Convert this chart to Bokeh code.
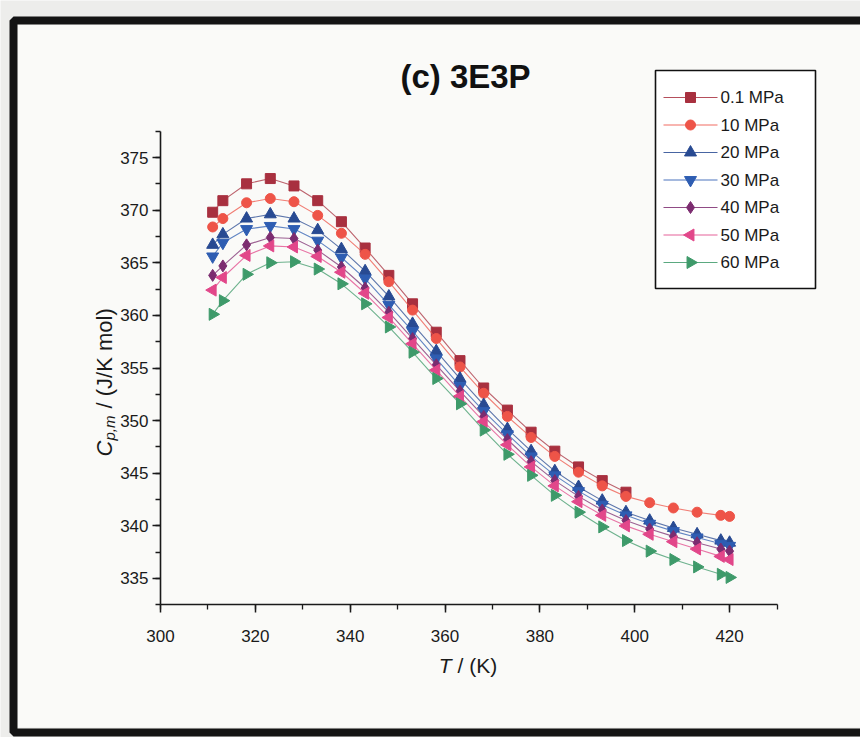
import math
from bokeh.plotting import figure
from bokeh.models import Label, BoxAnnotation, Range1d, SingleIntervalTicker
from bokeh.embed import file_html
from bokeh.resources import INLINE

# ---------------- data ----------------
T_K = [311.0, 313.15, 318.15, 323.15, 328.15, 333.15, 338.15, 343.15, 348.15,
       353.15, 358.15, 363.15, 368.15, 373.15, 378.15, 383.15, 388.15, 393.15,
       398.15, 403.15, 408.15, 413.15, 418.15, 420.0]

cp_01MPa = [369.8, 370.9, 372.5, 373.0, 372.3, 370.9, 368.9, 366.4, 363.8, 361.1,
            358.4, 355.7, 353.1, 351.0, 348.9, 347.1, 345.6, 344.3, 343.2]
cp_10MPa = [368.4, 369.2, 370.7, 371.1, 370.8, 369.5, 367.8, 365.8, 363.2, 360.5,
            357.8, 355.1, 352.6, 350.4, 348.4, 346.6, 345.1, 343.8, 342.8, 342.2,
            341.7, 341.3, 341.0, 340.9]
cp_20MPa = [366.7, 367.7, 369.2, 369.6, 369.2, 368.1, 366.3, 364.2, 361.8, 359.2,
            356.6, 354.0, 351.5, 349.2, 347.1, 345.2, 343.7, 342.4, 341.3, 340.5,
            339.8, 339.2, 338.6, 338.4]
cp_30MPa = [365.6, 366.9, 368.2, 368.5, 368.2, 367.1, 365.5, 363.5, 361.0, 358.5,
            355.9, 353.3, 350.9, 348.7, 346.6, 344.8, 343.3, 342.0, 341.0, 340.2,
            339.5, 338.9, 338.3, 338.1]
cp_40MPa = [363.8, 364.7, 366.7, 367.4, 367.3, 366.2, 364.6, 362.6, 360.3, 357.8,
            355.3, 352.8, 350.4, 348.2, 346.1, 344.3, 342.8, 341.5, 340.5, 339.7,
            339.0, 338.4, 337.8, 337.6]
cp_50MPa = [362.4, 363.6, 365.7, 366.6, 366.5, 365.6, 364.1, 362.1, 359.8, 357.3,
            354.8, 352.3, 349.9, 347.7, 345.6, 343.8, 342.3, 341.0, 340.0, 339.2,
            338.5, 337.8, 337.1, 336.8]
cp_60MPa = [360.1, 361.4, 363.9, 365.0, 365.1, 364.4, 363.0, 361.1, 358.9, 356.5,
            354.0, 351.6, 349.1, 346.8, 344.8, 342.9, 341.3, 339.9, 338.6, 337.6,
            336.8, 336.1, 335.4, 335.1]

series_labels = ["0.1 MPa", "10 MPa", "20 MPa", "30 MPa", "40 MPa", "50 MPa", "60 MPa"]
series_values = [cp_01MPa, cp_10MPa, cp_20MPa, cp_30MPa, cp_40MPa, cp_50MPa, cp_60MPa]

x_axis_range = (300, 430)
y_axis_range = (332.5, 377.5)
x_tick_step = 20
y_tick_step = 5

# ---------------- layout (pixels of the 860x737 canvas) ----------------
W, H = 860, 737
AX_LEFT, AX_RIGHT = 160.0, 776.5      # pixel x of 300 K and 430 K
AX_TOP, AX_BOTTOM = 130.7, 604.3      # pixel y of 377.5 and 332.5
kx = (AX_RIGHT - AX_LEFT) / (x_axis_range[1] - x_axis_range[0])
ky = (AX_BOTTOM - AX_TOP) / (y_axis_range[1] - y_axis_range[0])
x_start = x_axis_range[0] - AX_LEFT / kx
x_end = x_axis_range[1] + (W - AX_RIGHT) / kx
y_end = y_axis_range[1] + AX_TOP / ky
y_start = y_axis_range[0] - (H - AX_BOTTOM) / ky


def px2x(px):
    return x_start + px / kx


def py2y(py):
    return y_end - py / ky


colors = ["#A8303F", "#EE5448", "#284A92", "#2E5DB2", "#7C2C70", "#E2478A", "#3E9A6A"]
markers = ["square", "circle", "triangle", "inverted_triangle", "diamond", "triangle", "triangle"]
angles = [0, 0, 0, 0, 0, math.pi / 2, -math.pi / 2]
sizes = [10, 10, 12, 12, 12, 12, 12]

FONT = "Liberation Sans"
INK = "#1a1a1a"

p = figure(width=W, height=H, output_backend="svg", toolbar_location=None,
           x_range=Range1d(x_start, x_end), y_range=Range1d(y_start, y_end),
           min_border=0)
p.title.visible = False
p.background_fill_color = "#EDEDEB"
p.border_fill_color = "#EDEDEB"
p.outline_line_color = None
p.grid.visible = False

# inner paper of the scanned figure and its dark frame
p.add_layout(BoxAnnotation(left=17, right=W + 20, top=H - 24, bottom=H - 727,
                           left_units="screen", right_units="screen",
                           top_units="screen", bottom_units="screen",
                           fill_color="#FAFAF8", fill_alpha=1, line_alpha=0,
                           level="underlay"))
p.add_layout(BoxAnnotation(left=13, right=W + 30, top=H - 20, bottom=H - 732,
                           left_units="screen", right_units="screen",
                           top_units="screen", bottom_units="screen",
                           fill_alpha=0, line_color="#141414", line_alpha=1,
                           line_width=8, level="overlay"))

# axes drawn at fixed data positions
p.xaxis.fixed_location = y_axis_range[0]
p.yaxis.fixed_location = x_axis_range[0]
p.xaxis.bounds = x_axis_range
p.yaxis.bounds = y_axis_range
p.xaxis.ticker = SingleIntervalTicker(interval=x_tick_step, num_minor_ticks=2)
p.yaxis.ticker = SingleIntervalTicker(interval=y_tick_step, num_minor_ticks=2)
for ax in (p.xaxis, p.yaxis):
    ax.axis_line_width = 1.6
    ax.axis_line_color = INK
    ax.major_tick_line_color = INK
    ax.minor_tick_line_color = INK
    ax.major_tick_line_width = 1.5
    ax.minor_tick_line_width = 1.3
    ax.major_tick_in = 0
    ax.major_tick_out = 8
    ax.minor_tick_in = 0
    ax.minor_tick_out = 5
    ax.major_label_text_font = FONT
    ax.major_label_text_font_size = "17px"
    ax.major_label_text_color = INK
p.xaxis.major_label_standoff = 17
p.yaxis.major_label_standoff = 4

# data series
for vals, c, m, a, s in zip(series_values, colors, markers, angles, sizes):
    xs = T_K[:len(vals)]
    p.line(xs, vals, line_color=c, line_width=1.1, line_alpha=0.75)
    p.scatter(xs, vals, marker=m, size=s, angle=a, fill_color=c,
              line_color=c, line_width=1)

# legend (drawn by hand so that the rotated triangles show correctly)
LG_L, LG_R, LG_T, LG_B = 655, 815, 70, 288
p.add_layout(BoxAnnotation(left=LG_L, right=LG_R, top=H - LG_T, bottom=H - LG_B,
                           left_units="screen", right_units="screen",
                           top_units="screen", bottom_units="screen",
                           fill_color="white", fill_alpha=1, line_color="#111111",
                           line_alpha=1, line_width=1.6, level="annotation"))
for i, (lab, c, m, a, s) in enumerate(zip(series_labels, colors, markers, angles, sizes)):
    yy = 97 + i * 27.5
    p.segment(x0=[px2x(LG_L + 8)], y0=[py2y(yy)], x1=[px2x(LG_L + 62)], y1=[py2y(yy)],
              line_color=c, line_width=1.2, line_alpha=0.85, level="overlay")
    p.scatter([px2x(LG_L + 35)], [py2y(yy)], marker=m, size=s, angle=a,
              fill_color=c, line_color=c, level="overlay")
    p.add_layout(Label(x=LG_L + 65, y=H - yy, x_units="screen", y_units="screen",
                       text=lab, text_font=FONT, text_font_size="17px",
                       text_align="left", text_baseline="middle", text_color=INK))

# title
p.add_layout(Label(x=465, y=H - 76, x_units="screen", y_units="screen", text="(c) 3E3P",
                   text_font=FONT, text_font_style="bold", text_font_size="33px",
                   text_align="center", text_baseline="middle", text_color="#111111"))

# x axis title: "T / (K)"
p.add_layout(Label(x=451, y=H - 665, x_units="screen", y_units="screen", text="T",
                   text_font=FONT, text_font_style="italic", text_font_size="21px",
                   text_align="right", text_baseline="middle", text_color=INK))
p.add_layout(Label(x=457, y=H - 665, x_units="screen", y_units="screen", text="/ (K)",
                   text_font=FONT, text_font_size="21px",
                   text_align="left", text_baseline="middle", text_color=INK))

# y axis title: "C_p,m / (J/K mol)"
rot = math.pi / 2
YT_X = 104        # baseline pixel x
YT_START = 456    # pixel y where the text starts (bottom)
p.add_layout(Label(x=YT_X, y=H - YT_START, x_units="screen", y_units="screen", text="C",
                   angle=rot, text_font=FONT, text_font_style="italic",
                   text_font_size="22px", text_align="left", text_baseline="alphabetic",
                   text_color=INK))
p.add_layout(Label(x=YT_X + 5, y=H - YT_START + 16, x_units="screen", y_units="screen",
                   text="p,m", angle=rot, text_font=FONT, text_font_style="italic",
                   text_font_size="15px", text_align="left", text_baseline="alphabetic",
                   text_color=INK))
p.add_layout(Label(x=YT_X, y=H - YT_START + 48, x_units="screen", y_units="screen",
                   text="/ (J/K mol)", angle=rot, text_font=FONT, text_font_size="22px",
                   text_align="left", text_baseline="alphabetic", text_color=INK))

open("out.html", "w").write(file_html(p, INLINE))
